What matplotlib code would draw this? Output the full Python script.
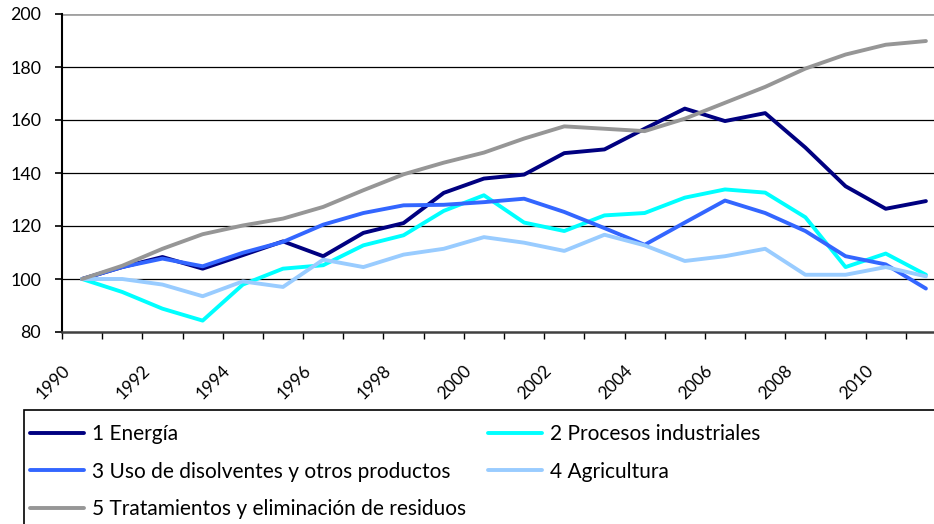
import matplotlib
matplotlib.use("Agg")
import matplotlib.pyplot as plt
import matplotlib.transforms as mtransforms
from matplotlib.patches import Rectangle
from matplotlib.ticker import FixedLocator

plt.rcParams['font.family'] = ['Lato', 'DejaVu Sans']

years = list(range(1990, 2012))
year_labels = [str(y) for y in years[::2]]

energia = [100, 104.5, 108.3, 103.9, 109, 114.2, 108.6, 117.4, 121.1, 132.5, 137.9,
           139.4, 147.5, 148.9, 156.7, 164.3, 159.6, 162.6, 149.6, 135, 126.5, 129.4]
procesos = [100, 95.1, 88.8, 84.3, 97.9, 103.9, 105.2, 112.7, 116.5, 125.7, 131.6,
            121.3, 118.1, 124, 124.9, 130.7, 133.8, 132.6, 123.3, 104.5, 109.6, 101.6]
disolventes = [100, 104.5, 107.7, 104.8, 109.9, 114, 120.5, 124.9, 127.8, 128, 129,
               130.3, 125.3, 119.2, 112.9, 121.3, 129.6, 124.9, 118.1, 108.6, 105.5, 96.4]
agricultura = [100, 100, 97.9, 93.5, 99.1, 97, 107.3, 104.5, 109.2, 111.4, 115.8,
               113.7, 110.6, 116.7, 112.7, 106.8, 108.6, 111.4, 101.6, 101.6, 104.5, 101]
residuos = [100, 105, 111.4, 116.9, 120.2, 122.8, 127.2, 133.5, 139.5, 143.9, 147.7,
            153, 157.6, 156.7, 155.8, 160.5, 166.5, 172.5, 179.4, 184.7, 188.4, 189.8]

names = ["1 Energía", "2 Procesos industriales", "3 Uso de disolventes y otros productos",
         "4 Agricultura", "5 Tratamientos y eliminación de residuos"]
series = [energia, procesos, disolventes, agricultura, residuos]
colors = ["#000080", "#00FFFF", "#3366FF", "#99CCFF", "#969696"]

fig = plt.figure(figsize=(9.34, 5.24), dpi=100)
ax = fig.add_axes([62 / 934, 1 - 332 / 524, 884 / 934, 318 / 524])

x = list(range(len(years)))
handles = []
for vals, name, c in zip(series, names, colors):
    h, = ax.plot(x, vals, color=c, lw=2.8, label=name, solid_capstyle='round',
                 solid_joinstyle='round', clip_on=False)
    handles.append(h)

ax.set_xlim(-0.5, len(years) - 0.5)
ax.set_ylim(80, 200)
ax.set_yticks(range(80, 201, 20))
for v in range(100, 200, 20):
    ax.axhline(v, color="black", lw=0.9, zorder=0)
ax.axhline(200, color="#A0A0A0", lw=2, zorder=0)

for s in ["top", "right"]:
    ax.spines[s].set_visible(False)
ax.spines["left"].set_linewidth(1.5)
ax.spines["bottom"].set_linewidth(1.8)
ax.spines["bottom"].set_color("#404040")

# tick marks sit between the categories
ax.xaxis.set_major_locator(FixedLocator([i - 0.5 for i in range(len(years) + 1)]))
ax.set_xticklabels([])
ax.tick_params(axis='x', direction='out', length=5, width=1)
ax.tick_params(axis='y', direction='out', length=5, width=1.2, pad=10, labelsize=12.8)

# rotated year labels under every second category
offset = mtransforms.ScaledTranslation(-0.15, -0.36, fig.dpi_scale_trans)
for xi, lab in zip(x[::2], year_labels):
    ax.text(xi, 0, lab, transform=ax.get_xaxis_transform() + offset,
            rotation=45, ha='right', va='center', rotation_mode='anchor', fontsize=12.5)

# legend box
fig.patches.append(Rectangle((24 / 934, -0.05), 1.0, (1 - 410 / 524) + 0.05,
                             transform=fig.transFigure, fill=False,
                             edgecolor="black", lw=1.2))
order = [0, 2, 4, 1, 3]
fig.legend([handles[i] for i in order], [names[i] for i in order],
           ncol=2, loc='upper left', bbox_to_anchor=(30 / 934, 1 - 424 / 524),
           frameon=False, fontsize=15, handlelength=2.6, handletextpad=0.38,
           columnspacing=1.05, labelspacing=0.85, borderaxespad=0, borderpad=0)

fig.savefig("out.png", dpi=100)
